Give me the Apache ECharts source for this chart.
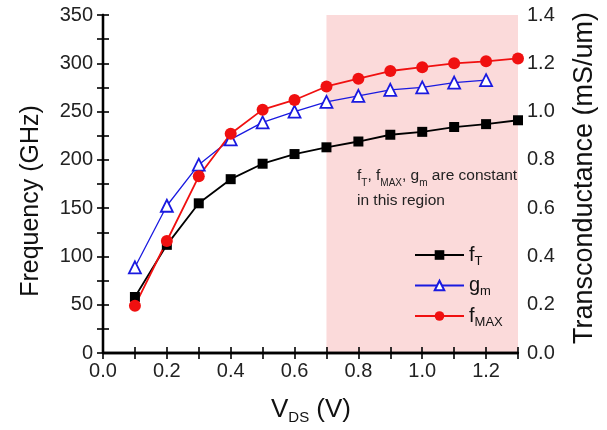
<!DOCTYPE html>
<html><head><meta charset="utf-8">
<script src="https://cdn.jsdelivr.net/npm/echarts@6/dist/echarts.min.js"></script>
<style>html,body{margin:0;padding:0;background:#fff}#c{width:607px;height:430px}</style>
</head><body><div id="c"></div>
<script>
const vds = [0.1,0.2,0.3,0.4,0.5,0.6,0.7,0.8,0.9,1.0,1.1,1.2,1.3];
const fT = [58,112,155,180,196,206,213,219,226,229,234,237,241];
const gmVds = [0.1,0.2,0.3,0.4,0.5,0.6,0.7,0.8,0.9,1.0,1.1,1.2];
const gm = [0.355,0.61,0.78,0.885,0.955,1.0,1.04,1.065,1.09,1.10,1.12,1.13];
const fMAX = [49,116,183,227,252,262,276,284,292,296,300,302,305];
const regionStart = 0.7, regionEnd = 1.3;
const FONT = 'Liberation Sans, Arial, sans-serif';

const chart = echarts.init(document.getElementById('c'));
const rich = {
  m:{fontSize:20,fontFamily:FONT,color:'#111'},
  s:{fontSize:13,fontFamily:FONT,color:'#111',verticalAlign:'bottom',padding:[12,0,0,0]}
};
const legendNames = {'fT':'{m|f}{s|T}','gm':'{m|g}{s|m}','fMAX':'{m|f}{s|MAX}'};
const axisCommon = {
  axisLine:{show:true,lineStyle:{color:'#000',width:2.3}},
  axisTick:{show:true,inside:true,length:6,lineStyle:{color:'#000',width:1.6}},
  splitLine:{show:false},
  z:1.5
};
const tickFont = {fontSize:20,fontFamily:FONT,color:'#222'};
chart.setOption({
  animation:false,
  grid:{left:103,right:89,top:15,bottom:77},
  legend:{
    orient:'vertical',left:409,top:240,itemWidth:49,itemHeight:12,itemGap:8,
    data:['fT','gm','fMAX'],
    formatter:n=>legendNames[n],
    textStyle:{rich:rich}
  },
  xAxis:[
    Object.assign({type:'value',min:0,max:1.3,interval:0.1,position:'bottom',
      axisLabel:Object.assign({margin:8,formatter:v=>Math.round(v*10)%2===0?v.toFixed(1):''},tickFont)},axisCommon),
    Object.assign({type:'value',min:0,max:1.3,interval:0.1,position:'top',axisLabel:{show:false}},axisCommon)
  ],
  yAxis:[
    Object.assign({type:'value',min:0,max:350,interval:25,position:'left',
      axisLabel:Object.assign({margin:10,formatter:v=>v%50===0?String(v):''},tickFont)},axisCommon),
    Object.assign({type:'value',min:0,max:1.4,interval:0.1,position:'right',
      axisLabel:Object.assign({margin:9,formatter:v=>Math.round(v*10)%2===0?v.toFixed(1):''},tickFont)},axisCommon)
  ],
  graphic:[
    {type:'text',x:357,y:163,z:10,
      style:{
        text:'{a|f}{b|T}{a|, f}{b|MAX}{a|, g}{b|m}{a| are constant}\n{a|in this region}',
        rich:{a:{fontSize:15.5,fontFamily:FONT,fill:'#222',lineHeight:25},
              b:{fontSize:10,fontFamily:FONT,fill:'#222',verticalAlign:'bottom',padding:[10,0,0,0],lineHeight:25}}
      }},
    {type:'text',x:31,y:201,rotation:Math.PI/2,
      style:{text:'Frequency (GHz)',fontSize:25,fontFamily:FONT,fill:'#111',align:'center',verticalAlign:'middle'}},
    {type:'text',x:585,y:178,rotation:Math.PI/2,
      style:{text:'Transconductance (mS/um)',fontSize:27,fontFamily:FONT,fill:'#111',align:'center',verticalAlign:'middle'}},
    {type:'text',x:311,y:410,
      style:{text:'{m|V}{s|DS}{m| (V)}',align:'center',verticalAlign:'middle',
        rich:{m:{fontSize:26,fontFamily:FONT,fill:'#111'},s:{fontSize:15,fontFamily:FONT,fill:'#111',verticalAlign:'bottom',padding:[16,0,0,0]}}}}
  ],
  series:[
    {type:'line',name:'_region',data:[],z:0.5,silent:true,
      markArea:{silent:true,itemStyle:{color:'#fbdada'},data:[[{xAxis:regionStart},{xAxis:regionEnd}]]}},
    {type:'line',name:'fT',data:vds.map((x,i)=>[x,fT[i]]),symbol:'rect',symbolSize:10,
      lineStyle:{color:'#000',width:1.8},itemStyle:{color:'#000'}},
    {type:'line',name:'gm',yAxisIndex:1,data:gmVds.map((x,i)=>[x,gm[i]]),symbol:'triangle',symbolSize:12,
      lineStyle:{color:'#1a1ae0',width:1.3},itemStyle:{color:'#fff',borderColor:'#1a1ae0',borderWidth:1.8}},
    {type:'line',name:'fMAX',data:vds.map((x,i)=>[x,fMAX[i]]),symbol:'circle',symbolSize:12,
      lineStyle:{color:'#f01010',width:1.8},itemStyle:{color:'#f01010'}}
  ]
});
</script></body></html>
